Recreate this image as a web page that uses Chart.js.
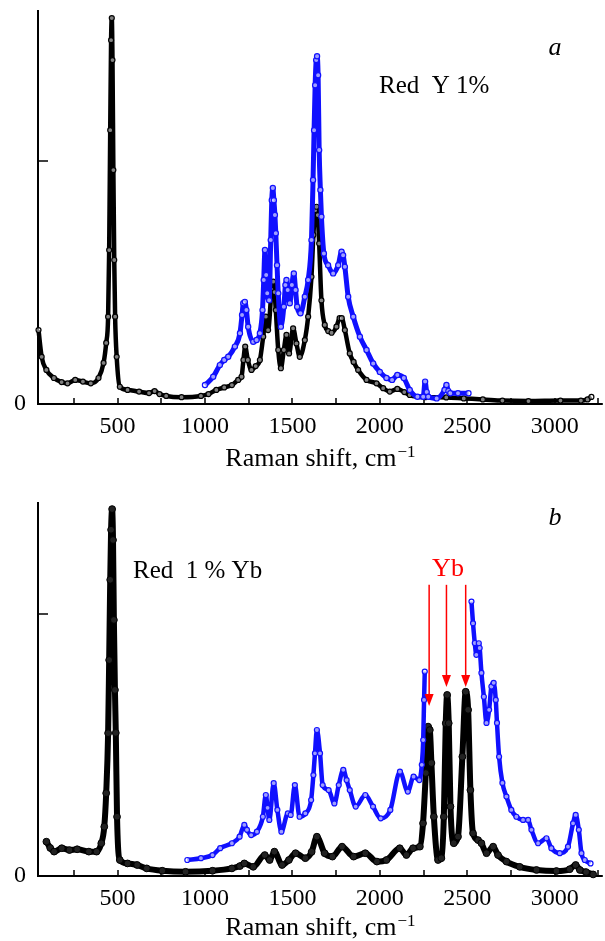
<!DOCTYPE html>
<html>
<head>
<meta charset="utf-8">
<script src="https://cdn.jsdelivr.net/npm/chart.js@4.4.0/dist/chart.umd.min.js"></script>
<style>
html, body { margin: 0; padding: 0; background: #fff; width: 605px; height: 941px; overflow: hidden; }
canvas { position: absolute; left: 0; }
#chartA { top: 0; }
#chartB { top: 470px; }
</style>
</head>
<body>
<canvas id="chartA" width="605" height="470"></canvas>
<canvas id="chartB" width="605" height="471"></canvas>
<script>
// x axis: labelled ticks and the short unlabelled ones
const labelShift = [500, 1000, 1500, 2000, 2500, 3000];
const tickShift = [250, 500, 750, 1000, 1250, 1500, 1750, 2000, 2250, 2500, 2750, 3000, 3250];

// panel a, black (Red Y 1%)
const shiftA_black = [48,66,93,136,180,214,258,302,347,391,420,435,446,452,458,463,467,471,476,481,486,495,513,557,623,680,712,740,778,866,977,1020,1065,1110,1154,1190,1209,1220,1230,1245,1266,1290,1314,1333,1348,1361,1381,1390,1398,1405,1419,1434,1451,1466,1481,1504,1523,1542,1571,1590,1609,1620,1630,1638,1645,1653,1666,1685,1705,1724,1752,1770,1782,1800,1828,1850,1876,1924,1981,2019,2057,2100,2140,2171,2259,2380,2480,2589,2701,2850,3033,3150,3188,3210];
const intensA_black = [0.304,0.194,0.140,0.107,0.090,0.085,0.099,0.092,0.085,0.107,0.169,0.251,0.359,0.633,1.126,1.496,1.587,1.414,0.962,0.592,0.359,0.194,0.071,0.058,0.051,0.045,0.053,0.041,0.033,0.028,0.033,0.041,0.058,0.068,0.078,0.099,0.112,0.181,0.236,0.181,0.140,0.156,0.181,0.277,0.359,0.304,0.469,0.503,0.460,0.386,0.222,0.147,0.222,0.284,0.208,0.311,0.249,0.194,0.263,0.359,0.523,0.695,0.797,0.811,0.777,0.660,0.426,0.325,0.300,0.293,0.318,0.353,0.353,0.304,0.208,0.173,0.140,0.099,0.085,0.065,0.051,0.062,0.049,0.037,0.028,0.027,0.023,0.019,0.014,0.012,0.014,0.014,0.019,0.029];

// panel a, blue
const shiftA_blue = [1000,1047,1085,1110,1133,1171,1200,1212,1219,1228,1237,1247,1276,1295,1314,1329,1336,1343,1350,1356,1367,1376,1382,1388,1394,1400,1405,1412,1419,1434,1451,1460,1466,1473,1485,1497,1508,1518,1527,1546,1571,1590,1609,1618,1624,1630,1636,1641,1647,1653,1660,1666,1680,1704,1733,1762,1781,1790,1800,1819,1848,1886,1924,1962,2000,2038,2070,2100,2137,2171,2215,2248,2259,2268,2277,2325,2370,2381,2392,2403,2447,2507];
const intensA_blue = [0.078,0.112,0.160,0.181,0.194,0.236,0.291,0.366,0.414,0.420,0.386,0.318,0.256,0.263,0.291,0.386,0.510,0.633,0.530,0.455,0.427,0.674,0.838,0.888,0.838,0.777,0.702,0.571,0.455,0.318,0.400,0.489,0.510,0.469,0.414,0.489,0.537,0.469,0.400,0.373,0.441,0.510,0.674,0.921,1.126,1.311,1.414,1.430,1.352,1.044,0.880,0.770,0.619,0.571,0.537,0.571,0.626,0.612,0.564,0.441,0.359,0.277,0.222,0.167,0.132,0.107,0.099,0.119,0.107,0.058,0.030,0.030,0.092,0.049,0.030,0.023,0.058,0.078,0.053,0.044,0.044,0.044];

// panel b, black (Red 1 % Yb)
const shiftB_black = [93,115,137,181,225,269,336,380,407,424,435,446,452,458,463,469,474,479,485,490,497,513,557,612,667,756,889,1043,1154,1200,1225,1276,1342,1370,1397,1441,1480,1518,1574,1610,1640,1684,1729,1784,1850,1917,1983,2038,2114,2152,2190,2229,2247,2263,2276,2286,2295,2309,2333,2352,2366,2377,2385,2394,2404,2423,2447,2472,2491,2505,2518,2533,2562,2581,2610,2648,2676,2724,2800,2896,3010,3086,3120,3144,3180,3220];
const intensB_black = [0.131,0.107,0.093,0.106,0.099,0.102,0.093,0.093,0.125,0.188,0.316,0.545,0.824,1.130,1.321,1.400,1.282,0.977,0.710,0.546,0.226,0.061,0.048,0.042,0.029,0.020,0.016,0.020,0.029,0.038,0.048,0.035,0.080,0.061,0.093,0.042,0.061,0.087,0.068,0.092,0.150,0.087,0.074,0.112,0.074,0.087,0.055,0.061,0.106,0.080,0.106,0.112,0.201,0.393,0.570,0.557,0.431,0.226,0.061,0.068,0.226,0.583,0.691,0.583,0.265,0.125,0.150,0.455,0.703,0.634,0.328,0.163,0.137,0.125,0.087,0.112,0.080,0.055,0.035,0.023,0.019,0.026,0.042,0.023,0.015,0.006];

// panel b, blue (no values between 2257 and 2524)
const shiftB_blue = [899,977,1043,1087,1154,1198,1225,1240,1264,1297,1331,1348,1358,1368,1393,1414,1437,1474,1490,1514,1541,1574,1607,1620,1629,1640,1658,1673,1707,1740,1765,1791,1810,1828,1862,1917,1961,2005,2060,2115,2160,2193,2226,2240,2248,2253,2257,2390,2524,2533,2543,2552,2566,2571,2581,2595,2610,2625,2638,2651,2663,2670,2682,2701,2724,2752,2781,2819,2848,2867,2905,2953,2981,3029,3076,3105,3120,3138,3153,3172,3205];
const intensB_blue = [0.061,0.068,0.080,0.106,0.125,0.150,0.195,0.176,0.156,0.169,0.226,0.309,0.260,0.214,0.354,0.252,0.169,0.239,0.233,0.347,0.226,0.239,0.290,0.385,0.468,0.557,0.468,0.347,0.328,0.277,0.347,0.405,0.366,0.328,0.265,0.309,0.265,0.220,0.252,0.398,0.322,0.379,0.366,0.424,0.519,0.672,0.780,null,1.047,0.964,0.889,0.844,0.888,0.870,0.775,0.684,0.584,0.634,0.723,0.737,0.672,0.584,0.455,0.355,0.303,0.252,0.226,0.214,0.214,0.176,0.125,0.144,0.106,0.087,0.112,0.201,0.233,0.176,0.087,0.061,0.048];

// Yb arrows in panel b
const arrowShift = [2282, 2381, 2491];
const arrowTip = [0.649, 0.721, 0.721];
const arrowTop = 1.111;

Chart.defaults.font.family = '"Liberation Serif", "Times New Roman", serif';
Chart.defaults.color = '#000';

const SERIF = '"Liberation Serif", "Times New Roman", serif';
const BLUE = '#1010ff';

function pts(xs, ys) {
  return xs.map((x, i) => ({ x: x, y: ys[i] }));
}

const axesPlugin = {
  id: 'axes',
  beforeDatasetsDraw(chart) {
    const ctx = chart.ctx, xs = chart.scales.x, ys = chart.scales.y, a = chart.chartArea;
    ctx.save();
    ctx.strokeStyle = '#000';
    ctx.lineWidth = 2;
    ctx.beginPath();
    ctx.moveTo(a.left, a.top);
    ctx.lineTo(a.left, a.bottom);
    ctx.lineTo(a.right + 3, a.bottom);
    ctx.stroke();
    ctx.lineWidth = 1.5;
    ctx.beginPath();
    for (const v of tickShift) {
      const px = Math.round(xs.getPixelForValue(v));
      ctx.moveTo(px, a.bottom);
      ctx.lineTo(px, a.bottom - 6);
    }
    const py = Math.round(ys.getPixelForValue(1));
    ctx.moveTo(a.left, py);
    ctx.lineTo(a.left + 10, py);
    ctx.stroke();
    ctx.restore();
  },
  afterDraw(chart, args, opts) {
    const ctx = chart.ctx, a = chart.chartArea, xs = chart.scales.x, ys = chart.scales.y;
    ctx.save();
    // axis title with superscript
    const t1 = 'Raman shift, cm', t2 = '\u22121';
    ctx.font = '26px ' + SERIF;
    const w1 = ctx.measureText(t1).width;
    ctx.font = '17px ' + SERIF;
    const w2 = ctx.measureText(t2).width;
    const start = (a.left + a.right) / 2 + 1 - (w1 + w2) / 2;
    const base = a.bottom + opts.titleGap;
    ctx.fillStyle = '#000';
    ctx.textBaseline = 'alphabetic';
    ctx.textAlign = 'left';
    ctx.font = '26px ' + SERIF;
    ctx.fillText(t1, start, base);
    ctx.font = '17px ' + SERIF;
    ctx.fillText(t2, start + w1 + 1, base - 9);
    // panel letter
    ctx.font = 'italic 26px ' + SERIF;
    ctx.textAlign = 'center';
    ctx.fillText(opts.letter, 555, 55);
    // sample label
    ctx.font = '25px ' + SERIF;
    ctx.textAlign = 'left';
    ctx.fillText(opts.label, opts.labelX, opts.labelY);
    if (opts.arrows) {
      ctx.fillStyle = '#ff0000';
      ctx.strokeStyle = '#ff0000';
      ctx.textAlign = 'center';
      ctx.font = '26px ' + SERIF;
      ctx.fillText('Yb', 448, 106);
      ctx.lineWidth = 1.5;
      const top = ys.getPixelForValue(arrowTop);
      arrowShift.forEach((v, i) => {
        const px = xs.getPixelForValue(v);
        const tip = ys.getPixelForValue(arrowTip[i]);
        ctx.beginPath();
        ctx.moveTo(px, top);
        ctx.lineTo(px, tip - 10);
        ctx.stroke();
        ctx.beginPath();
        ctx.moveTo(px - 4.5, tip - 12);
        ctx.lineTo(px + 4.5, tip - 12);
        ctx.lineTo(px, tip);
        ctx.closePath();
        ctx.fill();
      });
    }
    ctx.restore();
  }
};

function makeChart(id, datasets, yMax, padTop, xAxisHeight, opts) {
  return new Chart(document.getElementById(id), {
    type: 'line',
    data: { datasets: datasets },
    options: {
      responsive: false,
      animation: false,
      events: [],
      layout: { padding: { top: padTop, right: 5, left: 0, bottom: 0 } },
      plugins: { legend: { display: false }, tooltip: { enabled: false }, axes: opts },
      scales: {
        x: {
          type: 'linear',
          min: 45,
          max: 3258,
          grid: { display: false, drawTicks: false },
          border: { display: false },
          ticks: { padding: 8, font: { size: 24 }, maxRotation: 0, autoSkip: false, callback: v => String(v) },
          afterBuildTicks: s => { s.ticks = labelShift.map(v => ({ value: v })); },
          afterFit: s => { s.height = xAxisHeight; s.paddingLeft = 0; s.paddingRight = 0; }
        },
        y: {
          min: 0,
          max: yMax,
          grid: { display: false, drawTicks: false },
          border: { display: false },
          ticks: { padding: 12, font: { size: 24 }, callback: v => (v === 0 ? '0' : '') },
          afterBuildTicks: s => { s.ticks = [{ value: 0 }]; },
          afterFit: s => { s.width = 38; s.paddingTop = 0; s.paddingBottom = 0; }
        }
      }
    },
    plugins: [axesPlugin]
  });
}

const lineBase = { showLine: true, cubicInterpolationMode: 'monotone', spanGaps: false, clip: false, pointStyle: 'circle' };

makeChart('chartA', [
  Object.assign({}, lineBase, {
    label: 'blue', data: pts(shiftA_blue, intensA_blue),
    borderColor: BLUE, borderWidth: 5, pointRadius: 2.6, pointBorderWidth: 1.2,
    pointBorderColor: BLUE, pointBackgroundColor: 'rgba(255,255,255,0.6)'
  }),
  Object.assign({}, lineBase, {
    label: 'Red Y 1%', data: pts(shiftA_black, intensA_black),
    borderColor: '#000', borderWidth: 4.5, pointRadius: 2.5, pointBorderWidth: 1.2,
    pointBorderColor: '#000', pointBackgroundColor: 'rgba(255,255,255,0.5)'
  })
], 1.62, 10, 66, { titleGap: 62, letter: 'a', label: 'Red\u00a0\u00a0Y 1%', labelX: 379, labelY: 93, arrows: false });

makeChart('chartB', [
  Object.assign({}, lineBase, {
    label: 'blue', data: pts(shiftB_blue, intensB_blue),
    borderColor: BLUE, borderWidth: 4.5, pointRadius: 2.5, pointBorderWidth: 1.2,
    pointBorderColor: BLUE, pointBackgroundColor: 'rgba(255,255,255,0.6)'
  }),
  Object.assign({}, lineBase, {
    label: 'Red 1 % Yb', data: pts(shiftB_black, intensB_black),
    borderColor: '#000', borderWidth: 6, pointRadius: 3.4, pointBorderWidth: 1,
    pointBorderColor: '#000', pointBackgroundColor: '#222'
  })
], 1.427, 32, 65, { titleGap: 59, letter: 'b', label: 'Red\u00a0\u00a01 % Yb', labelX: 133, labelY: 108, arrows: true });
</script>
</body>
</html>
